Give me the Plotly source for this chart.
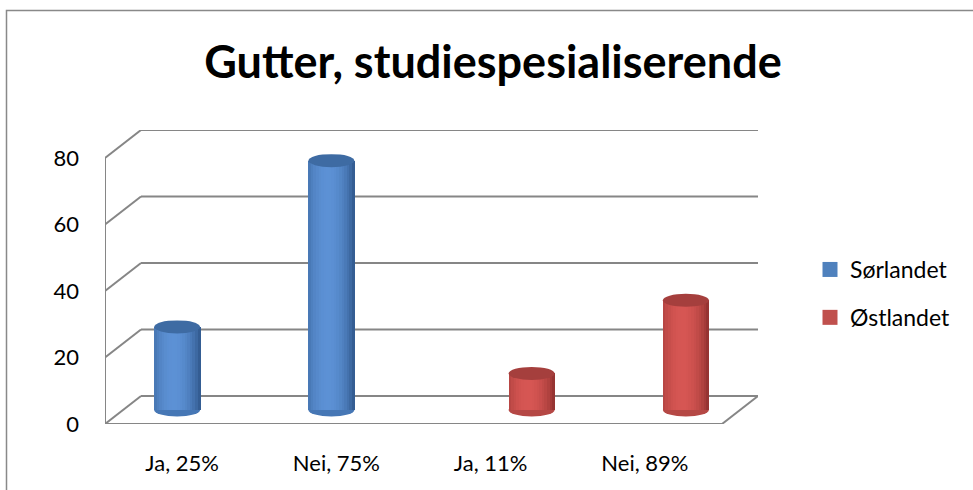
import plotly.graph_objects as go

# ---- data ----
categories = ["Ja, 25%", "Nei, 75%", "Ja, 11%", "Nei, 89%"]
sorlandet = [25, 75, None, None]
ostlandet = [None, None, 11, 33]
series_names = ["Sørlandet", "Østlandet"]
y_ticks = [0, 20, 40, 60, 80]

# ---- geometry (pixels -> data units) ----
W, H = 973, 490
X_LEFT_PX, X_FRONT_RIGHT_PX, X_BACK_RIGHT_PX = 105, 722, 758
Y_ZERO_PX, Y_80_PX, Y_TOP_PX = 424, 158, 130
PX_PER_X = (X_FRONT_RIGHT_PX - X_LEFT_PX) / len(categories)
PX_PER_Y = (Y_ZERO_PX - Y_80_PX) / 80.0
DEPTH_X = (X_BACK_RIGHT_PX - X_FRONT_RIGHT_PX) / PX_PER_X
DEPTH_Y = (Y_80_PX - Y_TOP_PX) / PX_PER_Y
X0 = -0.5
X1 = len(categories) - 0.5 + DEPTH_X
Y1 = 80 + DEPTH_Y

BAR_W = 46 / PX_PER_X
CAP_H = 6.5 / PX_PER_Y
N_STRIPS = 18

palettes = {
    "Sørlandet": dict(main="#4F81BD", dark=(40, 78, 128), light=(92, 145, 213), cap="#3E6BA3", bottom="#4677B5"),
    "Østlandet": dict(main="#C0504D", dark=(132, 42, 40), light=(214, 86, 83), cap="#A53F3D", bottom="#B54845"),
}
slot_offsets = {"Sørlandet": -BAR_W, "Østlandet": 0.0}
series_values = {"Sørlandet": sorlandet, "Østlandet": ostlandet}


def strip_color(dark, light, t):
    f = max(0.0, 1 - ((t - 0.42) / 0.6) ** 2)
    f = f ** 0.8
    c = [round(d + (l - d) * f) for d, l in zip(dark, light)]
    return "rgb(%d,%d,%d)" % tuple(c)


xs = list(range(len(categories)))
fig = go.Figure()
shapes = []

# ---- 3D box grid: back wall lines + left wall diagonals ----
grid_col = "#868686"
for v in y_ticks:
    shapes.append(dict(type="line", xref="x", yref="y", layer="below",
                       x0=X0 + DEPTH_X, x1=X1, y0=v + DEPTH_Y, y1=v + DEPTH_Y,
                       line=dict(color=grid_col, width=2)))
    shapes.append(dict(type="line", xref="x", yref="y", layer="below",
                       x0=X0, x1=X0 + DEPTH_X, y0=v, y1=v + DEPTH_Y,
                       line=dict(color=grid_col, width=2)))
# left front edge
shapes.append(dict(type="line", xref="x", yref="y", layer="below",
                   x0=X0, x1=X0, y0=0, y1=y_ticks[-1], line=dict(color=grid_col, width=2)))
# floor front edge + right diagonal
shapes.append(dict(type="line", xref="x", yref="y", layer="below",
                   x0=X0, x1=X1 - DEPTH_X, y0=0, y1=0, line=dict(color=grid_col, width=2)))
shapes.append(dict(type="line", xref="x", yref="y", layer="below",
                   x0=X1 - DEPTH_X, x1=X1, y0=0, y1=DEPTH_Y, line=dict(color=grid_col, width=2)))

base = DEPTH_Y / 2
for name in series_names:
    pal = palettes[name]
    vals = series_values[name]
    off = slot_offsets[name] + DEPTH_X / 2
    # legend entry (square marker)
    fig.add_trace(go.Scatter(x=[None], y=[None], mode="markers", name=name, legendgroup=name,
                             marker=dict(symbol="square", size=15, color=pal["main"]),
                             hoverinfo="skip"))
    # base body
    fig.add_trace(go.Bar(x=xs, y=vals, base=base, offset=off, width=BAR_W, name=name,
                         legendgroup=name, showlegend=False,
                         marker=dict(color=pal["main"], line=dict(width=0)),
                         hovertemplate="%{y}<extra>" + name + "</extra>"))
    for i in range(N_STRIPS):
        t = (i + 0.5) / N_STRIPS
        sw = BAR_W / N_STRIPS
        fig.add_trace(go.Bar(x=xs, y=vals, base=base, offset=off + i * sw, width=sw * 1.15,
                             legendgroup=name,
                             marker=dict(color=strip_color(pal["dark"], pal["light"], t), line=dict(width=0)),
                             showlegend=False, hoverinfo="skip"))
    for xi, v in zip(xs, vals):
        if v is None:
            continue
        cx0 = xi + off
        cx1 = xi + off + BAR_W
        shapes.append(dict(type="circle", xref="x", yref="y", layer="below",
                           x0=cx0, x1=cx1, y0=base - CAP_H, y1=base + CAP_H,
                           fillcolor=pal["bottom"], line=dict(width=0)))
        shapes.append(dict(type="circle", xref="x", yref="y", layer="above",
                           x0=cx0, x1=cx1, y0=base + v - CAP_H, y1=base + v + CAP_H,
                           fillcolor=pal["cap"], line=dict(width=0)))

# chart frame
shapes.append(dict(type="rect", xref="paper", yref="paper",
                   x0=6.5 / W, x1=1.02, y0=-0.02, y1=1 - 10.5 / H,
                   line=dict(color="#898989", width=1.5), fillcolor="rgba(0,0,0,0)", layer="below"))

FONT = "Lato, 'Noto Sans', sans-serif"
fig.update_layout(
    width=W, height=H, autosize=False,
    margin=dict(l=0, r=0, t=0, b=0, pad=0, autoexpand=False),
    paper_bgcolor="white", plot_bgcolor="rgba(0,0,0,0)",
    barmode="overlay", bargap=0,
    font=dict(family=FONT, size=22, color="black"),
    title=dict(text="<b>Gutter, studiespesialiserende</b>", x=493 / W, xanchor="center",
               y=1 - 62 / H, yanchor="middle", automargin=False,
               font=dict(family=FONT, size=45, color="black")),
    xaxis=dict(domain=[X_LEFT_PX / W, X_BACK_RIGHT_PX / W], range=[X0, X1],
               tickvals=xs, ticktext=categories, showgrid=False, zeroline=False,
               showline=False, ticks="", ticklabelstandoff=24, automargin=False,
               tickfont=dict(size=22), fixedrange=True),
    yaxis=dict(domain=[(H - Y_ZERO_PX) / H, (H - Y_TOP_PX) / H], range=[0, Y1],
               tickvals=y_ticks, showgrid=False, zeroline=False, showline=False,
               ticks="", ticklabelstandoff=25, automargin=False,
               tickfont=dict(size=22), fixedrange=True),
    legend=dict(x=810 / W, xanchor="left", y=1 - 248 / H, yanchor="top",
                font=dict(size=23), tracegroupgap=15, itemwidth=30,
                bgcolor="rgba(0,0,0,0)"),
    shapes=shapes,
)

fig.write_html("out.html", config={"displayModeBar": False},
               post_script="document.body.style.margin='0';document.body.style.overflow='hidden';")
